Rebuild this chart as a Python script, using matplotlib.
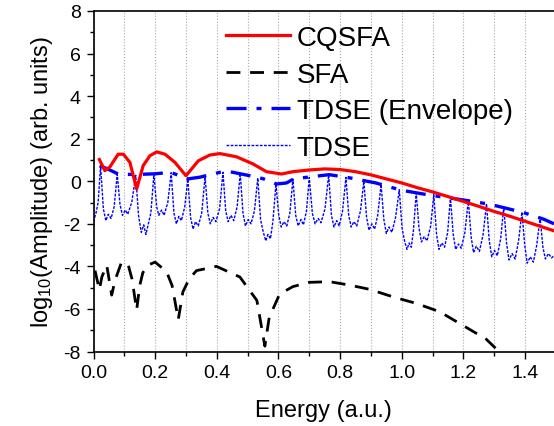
import matplotlib
matplotlib.use("Agg")
import matplotlib.pyplot as plt
from matplotlib.ticker import MultipleLocator, FormatStrFormatter

plt.rcParams['font.family'] = ['Liberation Sans', 'DejaVu Sans']
plt.rcParams['mathtext.fontset'] = 'custom'
plt.rcParams['mathtext.rm'] = 'Liberation Sans'
plt.rcParams['mathtext.default'] = 'regular'
plt.rcParams['axes.unicode_minus'] = False

# CQSFA (red solid)
cqsfa_x = [0.019, 0.037, 0.053, 0.080, 0.097, 0.118, 0.140, 0.161, 0.183, 0.205,
           0.232, 0.264, 0.300, 0.340, 0.377, 0.410, 0.464, 0.518, 0.561, 0.610,
           0.647, 0.700, 0.750, 0.800, 0.850, 0.900, 0.950, 1.000, 1.050, 1.100,
           1.150, 1.200, 1.250, 1.300, 1.350, 1.400, 1.450, 1.494]
cqsfa_y = [1.02, 0.50, 0.67, 1.27, 1.27, 0.89, -0.36, 0.73, 1.20, 1.38,
           1.27, 0.89, 0.26, 0.96, 1.23, 1.30, 1.15, 0.81, 0.45, 0.34,
           0.45, 0.53, 0.58, 0.55, 0.45, 0.30, 0.11, -0.08, -0.30, -0.50,
           -0.72, -0.95, -1.18, -1.42, -1.64, -1.88, -2.12, -2.33]

# SFA (black dashed)
sfa_x = [0.005, 0.019, 0.027, 0.043, 0.059, 0.070, 0.091, 0.113, 0.125, 0.140,
         0.150, 0.160, 0.175, 0.200, 0.237, 0.255, 0.275, 0.290, 0.310, 0.334,
         0.399, 0.475, 0.530, 0.556, 0.570, 0.604, 0.647, 0.700, 0.766, 0.831,
         0.896, 0.971, 1.047, 1.123, 1.198, 1.274, 1.312, 1.330]
sfa_y = [-4.2, -5.1, -4.5, -3.95, -5.35, -4.65, -3.8, -3.95, -4.6, -6.05,
         -4.9, -4.3, -3.95, -3.8, -4.25, -4.9, -6.5, -5.2, -4.6, -4.2,
         -4.0, -4.5, -5.6, -7.75, -6.4, -5.3, -4.95, -4.75, -4.72, -4.88,
         -5.08, -5.43, -5.74, -6.13, -6.77, -7.42, -7.95, -8.3]

# TDSE envelope (blue dash-dot)
env_x = [0.020, 0.047, 0.080, 0.120, 0.160, 0.200, 0.250, 0.306, 0.345, 0.410,
         0.442, 0.507, 0.550, 0.594, 0.626, 0.650, 0.700, 0.765, 0.835, 0.916,
         0.998, 1.090, 1.200, 1.285, 1.390, 1.460, 1.494]
env_y = [0.73, 0.57, 0.34, 0.32, 0.33, 0.35, 0.42, 0.11, 0.19, 0.42,
         0.45, 0.26, 0.12, -0.13, -0.08, 0.11, 0.20, 0.31, 0.15, -0.08,
         -0.42, -0.65, -0.88, -1.08, -1.45, -1.78, -2.0]

# TDSE (thin blue dotted)
tdse_x = [0.000, 0.008, 0.015,
          0.023, 0.032, 0.040, 0.048, 0.057, 0.067,
          0.077, 0.086, 0.094, 0.103, 0.111, 0.124,
          0.137, 0.146, 0.155, 0.163, 0.170, 0.178, 0.186,
          0.196, 0.205, 0.212, 0.221, 0.229, 0.241,
          0.252, 0.261, 0.269, 0.277, 0.285, 0.296,
          0.306, 0.315, 0.323, 0.331, 0.340, 0.351,
          0.362, 0.371, 0.379, 0.388, 0.397, 0.409,
          0.420, 0.429, 0.437, 0.446, 0.455, 0.466,
          0.476, 0.485, 0.493, 0.502, 0.511, 0.522,
          0.533, 0.542, 0.551, 0.559, 0.566, 0.574, 0.582,
          0.592, 0.601, 0.609, 0.618, 0.627, 0.637,
          0.647, 0.656, 0.664, 0.673, 0.681, 0.691,
          0.700, 0.710, 0.719, 0.729, 0.738, 0.751,
          0.763, 0.772, 0.780, 0.789, 0.797, 0.808,
          0.819, 0.828, 0.836, 0.845, 0.854, 0.866,
          0.877, 0.886, 0.894, 0.903, 0.912, 0.922,
          0.933, 0.942, 0.950, 0.959, 0.968, 0.980,
          0.992, 1.001, 1.009, 1.017, 1.024, 1.031, 1.038,
          1.047, 1.056, 1.064, 1.073, 1.082, 1.094,
          1.104, 1.113, 1.121, 1.130, 1.139, 1.149,
          1.158, 1.167, 1.175, 1.184, 1.193, 1.205,
          1.216, 1.225, 1.233, 1.242, 1.252, 1.264,
          1.275, 1.284, 1.292, 1.301, 1.310, 1.321,
          1.331, 1.340, 1.348, 1.358, 1.368, 1.379,
          1.390, 1.399, 1.407, 1.417, 1.427, 1.438,
          1.449, 1.458, 1.466, 1.476, 1.486, 1.494]
tdse_y = [-1.9, -1.5, -1.0,
          0.72, -1.3, -1.85, -1.55, -1.75, -1.2,
          0.33, -1.1, -1.6, -1.35, -1.55, -1.0,
          0.28, -1.6, -2.4, -2.05, -2.5, -2.0, -1.5,
          0.33, -1.2, -1.6, -1.35, -1.6, -1.0,
          0.40, -1.5, -2.0, -1.65, -1.85, -1.2,
          0.10, -1.7, -2.25, -1.9, -2.1, -1.5,
          0.22, -1.5, -2.0, -1.7, -1.9, -1.3,
          0.42, -1.4, -1.9, -1.6, -1.85, -1.2,
          0.38, -1.5, -2.1, -1.8, -2.0, -1.4,
          0.15, -1.8, -2.4, -2.8, -2.5, -2.7, -1.9,
          -0.12, -1.6, -2.15, -1.9, -2.1, -1.5,
          0.10, -1.6, -2.1, -1.8, -2.05, -1.4,
          0.18, -1.5, -2.0, -1.75, -1.95, -1.3,
          0.30, -1.6, -2.15, -1.85, -2.1, -1.4,
          0.18, -1.6, -2.15, -1.9, -2.1, -1.4,
          0.0, -1.7, -2.3, -2.0, -2.25, -1.6,
          -0.15, -1.8, -2.45, -2.15, -2.4, -1.7,
          -0.40, -2.2, -2.8, -3.2, -2.9, -3.1, -2.3,
          -0.55, -2.2, -2.85, -2.6, -2.8, -2.1,
          -0.63, -2.5, -3.2, -2.9, -3.1, -2.4,
          -0.75, -2.5, -3.2, -2.95, -3.15, -2.4,
          -0.88, -2.6, -3.35, -3.05, -3.3, -2.5,
          -1.05, -2.8, -3.55, -3.25, -3.5, -2.7,
          -1.2, -2.9, -3.7, -3.4, -3.65, -2.8,
          -1.45, -3.0, -3.85, -3.55, -3.8, -3.0,
          -1.7, -3.1, -3.65, -3.4, -3.6, -3.5]

fig = plt.figure(figsize=(5.54, 4.27), dpi=100)
ax = fig.add_axes([93.5 / 554, 1 - 352.5 / 427, 1 - 93.5 / 554, (352.5 - 12) / 427])

ax.plot(cqsfa_x, cqsfa_y, color='#ff0000', lw=2.3, label='CQSFA', zorder=4)
ax.plot(sfa_x, sfa_y, color='black', lw=2.0, dashes=(5, 3.5), label='SFA', zorder=3)
ax.plot(env_x, env_y, color='#0000ff', lw=2.4, dashes=(6, 3, 1.5, 3), label='TDSE (Envelope)', zorder=3)
ax.plot(tdse_x, tdse_y, color='#0000ff', lw=1.0, dashes=(2, 1), label='TDSE', zorder=2)

ax.set_xlim(0, 1.494)
ax.set_ylim(-8, 8)
ax.xaxis.set_major_locator(MultipleLocator(0.2))
ax.xaxis.set_minor_locator(MultipleLocator(0.1))
ax.xaxis.set_major_formatter(FormatStrFormatter('%.1f'))
ax.yaxis.set_major_locator(MultipleLocator(2))
ax.yaxis.set_minor_locator(MultipleLocator(1))
ax.xaxis.grid(True, which='both', color='#a8a8a8', lw=0.8, ls=':')
ax.tick_params(which='both', direction='out', labelsize=14, width=1.0)
ax.tick_params(which='major', length=5, pad=4)
ax.tick_params(which='minor', length=3)
ax.spines['right'].set_visible(False)
for s in ('left', 'bottom', 'top'):
    ax.spines[s].set_linewidth(1.2)

ax.set_xlabel('Energy (a.u.)', fontsize=17, labelpad=13)
ax.set_ylabel('log$_{10}$(Amplitude) (arb. units)', fontsize=17, labelpad=6)

ax.legend(loc='upper left', bbox_to_anchor=(226 / 554, 1 - 26 / 427), bbox_transform=fig.transFigure,
          frameon=False, fontsize=20, borderpad=0, borderaxespad=0, handlelength=2.3,
          handletextpad=0.25, labelspacing=0.38)

fig.savefig('out.png', dpi=100)
